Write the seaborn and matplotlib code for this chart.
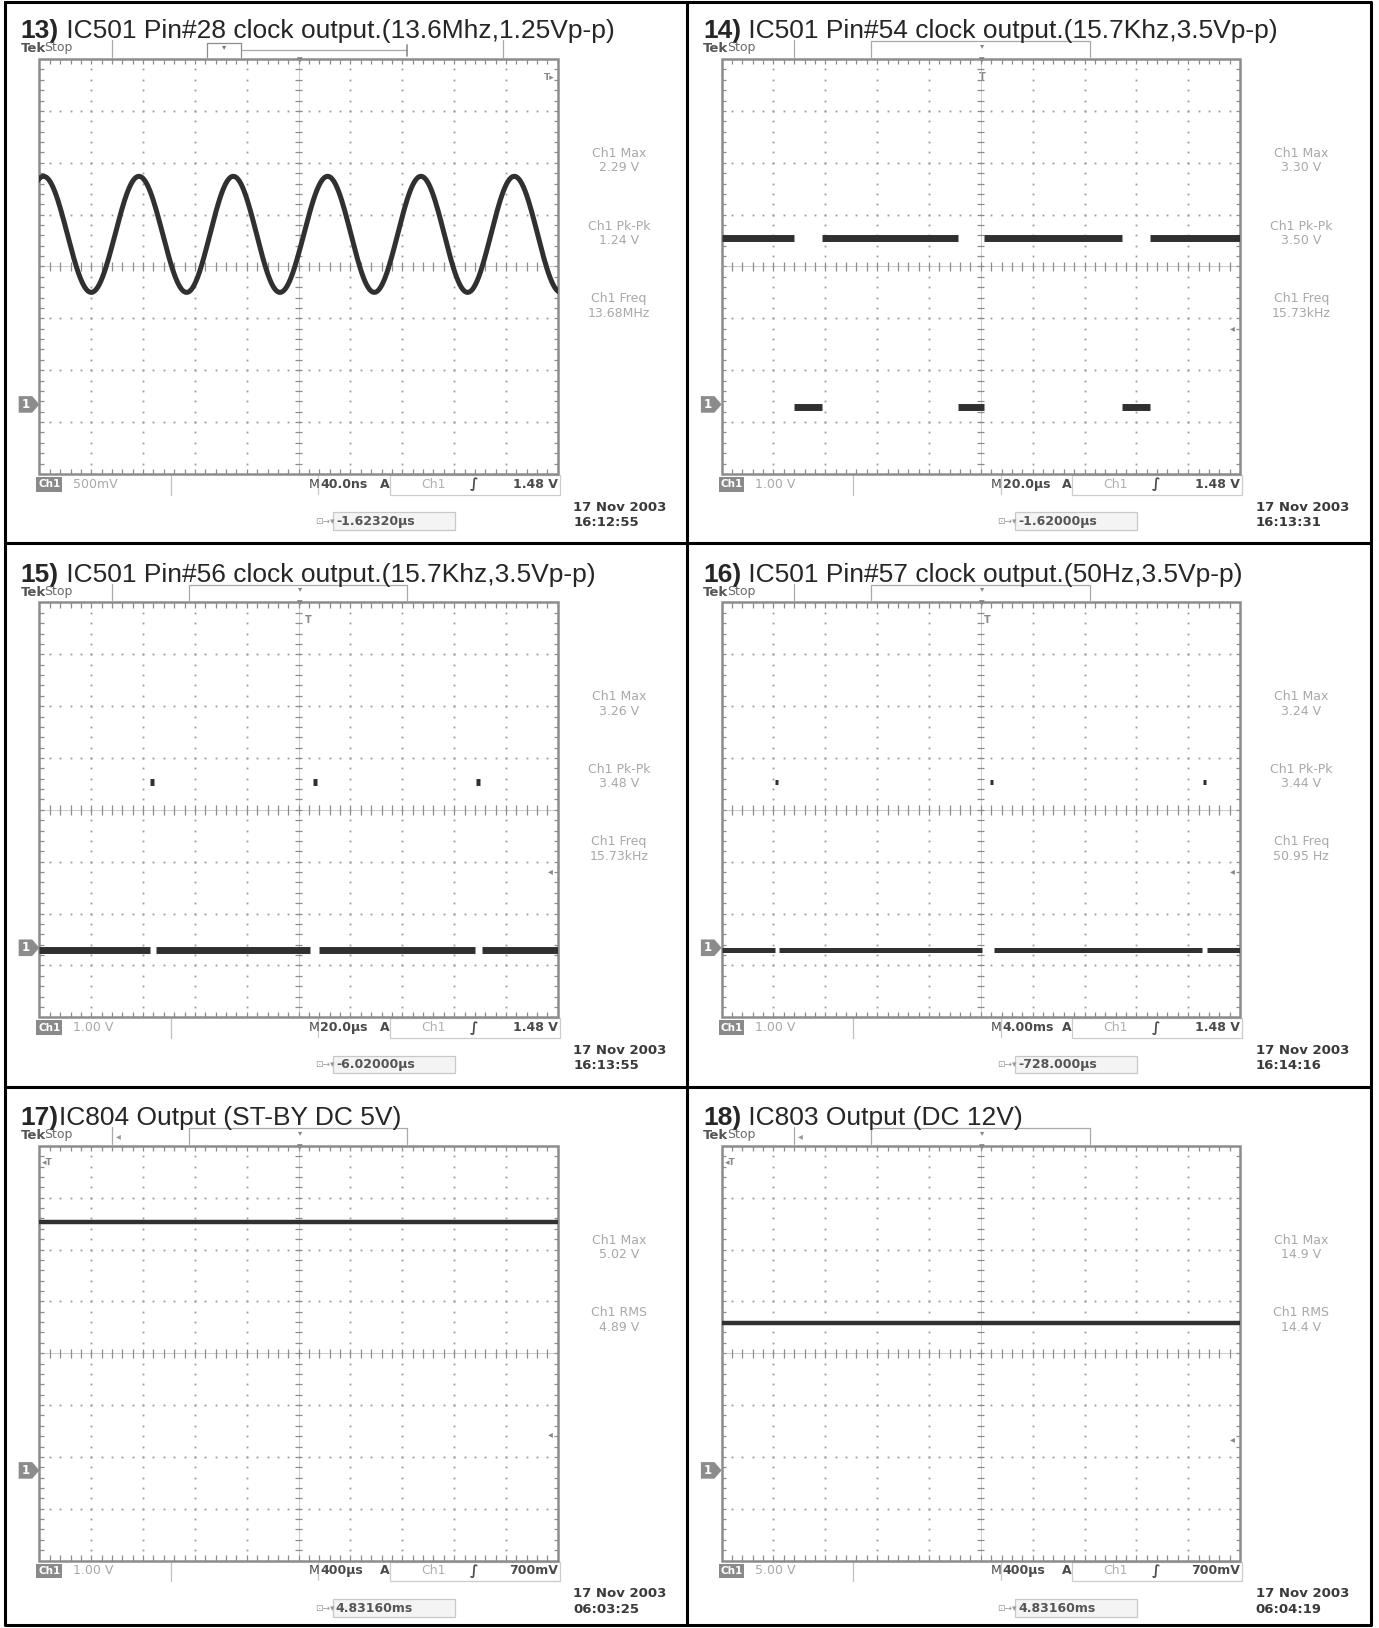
import numpy as np
import pandas as pd
import matplotlib
matplotlib.use('Agg')
import matplotlib.pyplot as plt
import seaborn as sns
from matplotlib.patches import Rectangle, Polygon
from matplotlib.collections import LineCollection

sns.set_theme(style='white')
plt.rcParams['font.family'] = ['DejaVu Sans']

title_num = ['13)', '14)', '15)', '16)', '17)', '18)']
title_txt = [' IC501 Pin#28 clock output.(13.6Mhz,1.25Vp-p)',
             ' IC501 Pin#54 clock output.(15.7Khz,3.5Vp-p)',
             ' IC501 Pin#56 clock output.(15.7Khz,3.5Vp-p)',
             ' IC501 Pin#57 clock output.(50Hz,3.5Vp-p)',
             'IC804 Output (ST-BY DC 5V)',
             ' IC803 Output (DC 12V)']
volt_lbl = ['500mV', '1.00 V', '1.00 V', '1.00 V', '1.00 V', '5.00 V']
volt_div = [0.5, 1.0, 1.0, 1.0, 1.0, 5.0]
time_lbl = ['40.0ns', '20.0µs', '20.0µs', '4.00ms', '400µs', '400µs']
time_div = [40, 20, 20, 4, 400, 400]          # ns, µs, µs, ms, µs, µs
trig_lbl = ['1.48 V', '1.48 V', '1.48 V', '1.48 V', '700mV', '700mV']
trig_pos = ['-1.62320µs', '-1.62000µs', '-6.02000µs', '-728.000µs', '4.83160ms', '4.83160ms']
clock = ['16:12:55', '16:13:31', '16:13:55', '16:14:16', '06:03:25', '06:04:19']
meas_name = [['Ch1 Max', 'Ch1 Pk-Pk', 'Ch1 Freq']] * 4 + [['Ch1 Max', 'Ch1 RMS']] * 2
meas_val = [['2.29 V', '1.24 V', '13.68MHz'],
            ['3.30 V', '3.50 V', '15.73kHz'],
            ['3.26 V', '3.48 V', '15.73kHz'],
            ['3.24 V', '3.44 V', '50.95 Hz'],
            ['5.02 V', '4.89 V'],
            ['14.9 V', '14.4 V']]
ground_div = [-2.66, -2.66, -2.66, -2.66, -2.26, -2.26]
trig_mark_div = [None, -1.18, -1.18, -1.18, -1.56, -1.66]
tmark_x = [None, 289, 297, 294, None, None]

# 13) sine: extrema of the trace (ns, V)
sine_t = [-233.0, -196.8, -160.0, -123.2, -86.4, -50.4, -14.4, 22.4, 58.4, 94.4, 130.4, 166.4, 202.4]
sine_v = [1.08, 2.20, 1.08, 2.20, 1.08, 2.20, 1.08, 2.20, 1.08, 2.20, 1.08, 2.20, 1.08]

# 14) square wave: edge times (µs) and level between edges (V)
sq_edges = [-100, -72.0, -61.2, -8.8, 1.2, 54.4, 65.2, 100]
sq_level = [3.2, -0.05, 3.2, -0.05, 3.2, -0.05, 3.2]

# 15) baseline pieces and narrow pulses (µs)
p15_low = [(-100, -57.2), (-55.2, 4.4), (8.0, 68.0), (70.8, 100)]
p15_high = [(-57.2, -55.6), (5.6, 7.2), (68.4, 70.0)]

# 16) baseline pieces and narrow pulses (ms)
p16_low = [(-20, -15.9), (-15.6, 0.08), (1.04, 17.04), (17.44, 20)]
p16_high = [(-15.88, -15.64), (0.68, 0.92), (17.16, 17.40)]

lo_v, hi_v = -0.05, 3.2

# 17) / 18) DC level (V) across the record (µs)
dc_span = (-2000, 2000)
dc_17 = 4.8
dc_18 = 14.2

TRACE = '#303030'
GRID = '#9a9a9a'
LIGHT = '#a8a8a8'
DARK = '#4a4a4a'

W, H = 1330, 1570
CW, CH = 658, 524
cells = [(0, 0), (0, 1), (1, 0), (1, 1), (2, 0), (2, 1)]

fig = plt.figure(figsize=(13.79, 16.28), dpi=100)
bg = fig.add_axes([0, 0, 1, 1])
bg.set_xlim(0, W)
bg.set_ylim(H, 0)
bg.axis('off')

# outer table lines
bg.plot([5, 1322, 1322, 5, 5], [2, 2, 1567, 1567, 2], color='black', lw=2.2)
bg.plot([663, 663], [2, 1567], color='black', lw=2.2)
for yy in (524, 1048):
    bg.plot([5, 1322], [yy, yy], color='black', lw=2.2)


def seg_frame(pieces, levels, tdiv, vdiv, gnd):
    rows = []
    for k, ((a, b), v) in enumerate(zip(pieces, levels)):
        for t in (a, b):
            rows.append({'x': t / tdiv, 'y': v / vdiv + gnd, 'seg': k})
    return pd.DataFrame(rows)


def sine_frame(ts, vs, tdiv, vdiv, gnd, n=30):
    xs, ys = [], []
    for t0, t1, v0, v1 in zip(ts[:-1], ts[1:], vs[:-1], vs[1:]):
        u = np.linspace(0, 1, n, endpoint=False)
        xs.append(t0 + (t1 - t0) * u)
        ys.append(v0 + (v1 - v0) * (1 - np.cos(np.pi * u)) / 2)
    xs = np.concatenate(xs) / tdiv
    ys = np.concatenate(ys) / vdiv + gnd
    return pd.DataFrame({'x': xs, 'y': ys, 'seg': 0})


def draw_grid(ax):
    fine_y = np.round(np.arange(-3.8, 3.81, 0.2), 2)
    fine_x = np.round(np.arange(-4.8, 4.81, 0.2), 2)
    for gx in [-4, -3, -2, -1, 1, 2, 3, 4]:
        ax.plot(np.full_like(fine_y, gx), fine_y, ls='none', marker='s', ms=1.3, mew=0, color=GRID)
    for gy in [-3, -2, -1, 1, 2, 3]:
        ax.plot(fine_x, np.full_like(fine_x, gy), ls='none', marker='s', ms=1.3, mew=0, color=GRID)
    ax.plot([0, 0], [-4, 4], color='#c4c4c4', lw=0.6)
    ax.plot([-5, 5], [0, 0], color='#c4c4c4', lw=0.6)
    segs = []
    for yy in fine_y:
        segs.append([(-0.07, yy), (0.07, yy)])
        segs.append([(-5, yy), (-4.92, yy)])
        segs.append([(5, yy), (4.92, yy)])
    for xx in fine_x:
        segs.append([(xx, -0.09), (xx, 0.09)])
        segs.append([(xx, 4), (xx, 3.9)])
        segs.append([(xx, -4), (xx, -3.9)])
    ax.add_collection(LineCollection(segs, colors='#8c8c8c', linewidths=0.9))
    ax.add_patch(Rectangle((-5, -4), 10, 8, fill=False, edgecolor='#8c8c8c', lw=1.8, clip_on=False))


for i, (r, c) in enumerate(cells):
    x0, y0 = c * CW, r * CH
    gnd = ground_div[i]

    # ---------- title ----------
    t_num = bg.text(x0 + 20, y0 + 37, title_num[i], fontsize=19, fontweight='bold',
                    family=['Liberation Sans', 'DejaVu Sans'], va='baseline', ha='left')
    bg.annotate(title_txt[i], xy=(1, 0), xycoords=t_num, va='bottom', ha='left',
                fontsize=19, family=['Liberation Sans', 'DejaVu Sans'])

    # ---------- top status bar ----------
    bg.text(x0 + 20, y0 + 47, 'Tek', fontsize=9.5, fontweight='bold', color='#555555', va='center')
    bg.text(x0 + 43, y0 + 46, 'Stop', fontsize=9, color='#6a6a6a', va='center')
    bg.plot([x0 + 108, x0 + 108], [y0 + 39, y0 + 55], color=LIGHT, lw=0.9)
    if i == 0:
        bg.plot([x0 + 200, x0 + 200, x0 + 232, x0 + 232], [y0 + 55, y0 + 41, y0 + 41, y0 + 55], color='#8c8c8c', lw=0.9)
        bg.text(x0 + 216, y0 + 45, '▾', fontsize=6, color='#777777', ha='center', va='center')
        bg.plot([x0 + 232, x0 + 393], [y0 + 48, y0 + 48], color=LIGHT, lw=0.9)
        bg.plot([x0 + 393, x0 + 393], [y0 + 43, y0 + 54], color='#8c8c8c', lw=1.2)
        bg.plot([x0 + 485, x0 + 485], [y0 + 39, y0 + 55], color=LIGHT, lw=0.9)
    else:
        bg.plot([x0 + 182, x0 + 182, x0 + 393, x0 + 393], [y0 + 55, y0 + 40, y0 + 40, y0 + 55], color=LIGHT, lw=0.9)
        bg.text(x0 + 289, y0 + 44, '▾', fontsize=6, color='#888888', ha='center', va='center')
        if i >= 4:
            bg.text(x0 + 114, y0 + 48, '◂', fontsize=7, color='#999999', ha='center', va='center')

    # ---------- right-hand measurements ----------
    for k, (nm, vl) in enumerate(zip(meas_name[i], meas_val[i])):
        bg.text(x0 + 597, y0 + 148 + 70 * k, nm, fontsize=9, color=LIGHT, ha='center', va='center')
        bg.text(x0 + 597, y0 + 162 + 70 * k, vl, fontsize=9, color=LIGHT, ha='center', va='center')

    # ---------- bottom status bar ----------
    bg.add_patch(Rectangle((x0 + 35, y0 + 460), 25, 14, color='#8a8a8a', lw=0))
    bg.text(x0 + 47.5, y0 + 467, 'Ch1', fontsize=7.5, fontweight='bold', color='white', ha='center', va='center')
    bg.text(x0 + 70, y0 + 467, volt_lbl[i], fontsize=9, color=LIGHT, va='center')
    bg.plot([x0 + 165, x0 + 165], [y0 + 457, y0 + 477], color='#c0c0c0', lw=0.9)
    bg.text(x0 + 298, y0 + 467, 'M', fontsize=9, color=DARK, va='center')
    bg.plot([x0 + 307, x0 + 307], [y0 + 458, y0 + 476], color='#c8c8c8', lw=0.9)
    bg.text(x0 + 309, y0 + 467, time_lbl[i], fontsize=9, fontweight='bold', color=DARK, va='center')
    bg.text(x0 + 366, y0 + 467, 'A', fontsize=9, fontweight='bold', color=DARK, va='center')
    bg.add_patch(Rectangle((x0 + 376, y0 + 458), 164, 19, fill=False, edgecolor='#cccccc', lw=0.9))
    bg.text(x0 + 418, y0 + 467, 'Ch1', fontsize=9, color='#b0b0b0', ha='center', va='center')
    bg.text(x0 + 457, y0 + 467, '∫', fontsize=10, fontweight='bold', color=DARK, ha='center', va='center')
    bg.text(x0 + 538, y0 + 467, trig_lbl[i], fontsize=9, fontweight='bold', color=DARK, ha='right', va='center')

    bg.text(x0 + 313, y0 + 503, '⊡→▾', fontsize=6.5, color='#999999', ha='center', va='center')
    bg.add_patch(Rectangle((x0 + 321, y0 + 494), 118, 17, facecolor='#f4f4f4', edgecolor='#c8c8c8', lw=0.9))
    bg.text(x0 + 324, y0 + 503, trig_pos[i], fontsize=9, fontweight='bold', color='#555555', va='center')

    bg.text(x0 + 553, y0 + 489, '17 Nov 2003', fontsize=9.5, fontweight='bold', color='#3a3a3a', va='center')
    bg.text(x0 + 553, y0 + 504, clock[i], fontsize=9.5, fontweight='bold', color='#3a3a3a', va='center')

    # ---------- markers around the graticule ----------
    gy = y0 + 257 - gnd * 50
    bg.add_patch(Polygon([(x0 + 18, gy - 8), (x0 + 31, gy - 8), (x0 + 38, gy),
                          (x0 + 31, gy + 8), (x0 + 18, gy + 8)], closed=True, color='#8c8c8c', lw=0))
    bg.text(x0 + 25, gy, '1', fontsize=8.5, fontweight='bold', color='white', ha='center', va='center')
    if trig_mark_div[i] is not None:
        bg.text(x0 + 531, y0 + 257 - trig_mark_div[i] * 50, '◂', fontsize=7, color='#888888',
                ha='center', va='center', zorder=5)
    bg.text(x0 + 289, y0 + 58, '▾', fontsize=8, color='#555555', ha='center', va='center', zorder=5)
    if tmark_x[i] is not None:
        bg.text(x0 + tmark_x[i], y0 + 74, 'T', fontsize=7, fontweight='bold', color='#888888',
                ha='center', va='center', zorder=5)
    if i == 0:
        bg.text(x0 + 530, y0 + 75, 'T▸', fontsize=6.5, fontweight='bold', color='#888888',
                ha='center', va='center', zorder=5)
    if i >= 4:
        bg.text(x0 + 46, y0 + 73, '◂T', fontsize=6.5, fontweight='bold', color='#888888',
                ha='center', va='center', zorder=5)

    # ---------- graticule + trace ----------
    ax = fig.add_axes([(x0 + 38) / W, 1 - (y0 + 457) / H, 500 / W, 400 / H])
    ax.set_xlim(-5, 5)
    ax.set_ylim(-4, 4)
    ax.axis('off')
    draw_grid(ax)

    td, vd = time_div[i], volt_div[i]
    if i == 0:
        df = sine_frame(sine_t, sine_v, td, vd, gnd)
        sns.lineplot(data=df, x='x', y='y', estimator=None, sort=False, color=TRACE,
                     lw=3.6, ax=ax, legend=False)
    elif i == 1:
        pieces = list(zip(sq_edges[:-1], sq_edges[1:]))
        df = seg_frame(pieces, sq_level, td, vd, gnd)
        sns.lineplot(data=df, x='x', y='y', units='seg', estimator=None, sort=False,
                     color=TRACE, lw=5, ax=ax, legend=False, solid_capstyle='butt')
    elif i in (2, 3):
        low, high = (p15_low, p15_high) if i == 2 else (p16_low, p16_high)
        df_lo = seg_frame(low, [lo_v] * len(low), td, vd, gnd)
        df_hi = seg_frame(high, [hi_v] * len(high), td, vd, gnd)
        lw = 5 if i == 2 else 3.6
        sns.lineplot(data=df_lo, x='x', y='y', units='seg', estimator=None, sort=False,
                     color=TRACE, lw=lw, ax=ax, legend=False, solid_capstyle='butt')
        sns.lineplot(data=df_hi, x='x', y='y', units='seg', estimator=None, sort=False,
                     color=TRACE, lw=lw, ax=ax, legend=False, solid_capstyle='butt')
    else:
        level = dc_17 if i == 4 else dc_18
        df = seg_frame([dc_span], [level], td, vd, gnd)
        sns.lineplot(data=df, x='x', y='y', units='seg', estimator=None, sort=False,
                     color=TRACE, lw=3.2, ax=ax, legend=False)

fig.savefig('out.png', dpi=100)
